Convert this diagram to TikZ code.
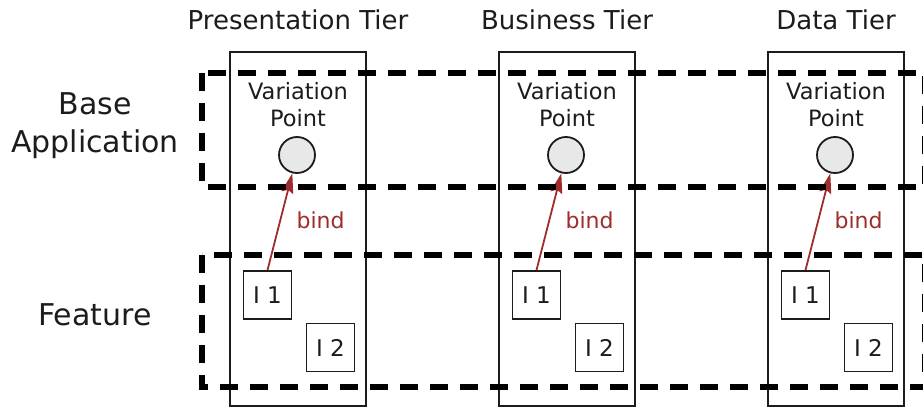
\documentclass[tikz,border=0pt]{standalone}
\usepackage{fontspec}
\setmainfont{DejaVu Sans}
\usetikzlibrary{arrows.meta}
\definecolor{bindred}{RGB}{158,44,44}
\definecolor{txt}{RGB}{28,28,28}
\begin{document}
\begin{tikzpicture}[x=1pt,y=-1pt,
  tierbox/.style={draw=txt, line width=1.8pt, minimum width=136pt, minimum height=354pt, inner sep=0pt},
  tierlabel/.style={anchor=base, text=txt, font=\fontsize{26}{31}\selectfont},
  rowlabel/.style={anchor=base, text=txt, align=center, font=\fontsize{30}{37}\selectfont},
  vptext/.style={anchor=base, text=txt, align=center, font=\fontsize{22.5}{27}\selectfont},
  vpoint/.style={circle, draw=txt, fill=black!9, line width=1.8pt, minimum size=36pt, inner sep=0pt},
  impl/.style={draw=txt, line width=1.8pt, minimum width=48pt, minimum height=48pt, inner sep=0pt, text=txt, font=\fontsize{23}{27}\selectfont},
  bindarrow/.style={draw=bindred, line width=1.8pt, -{Stealth[length=20pt,width=12pt,inset=3pt]}},
  bindlabel/.style={anchor=base west, text=bindred, font=\fontsize{22}{26}\selectfont},
  zone/.style={draw=black, line width=6pt, dash pattern=on 18pt off 12pt}
]
\useasboundingbox (0,0) rectangle (923,409);
\clip (0,0) rectangle (923,409);

% tiers
\foreach \n/\cx/\lab in {p/298/Presentation Tier, b/567/Business Tier, d/836/Data Tier}{
  \node[tierbox] (tier\n) at (\cx,229) {};
  \node[tierlabel] (lab\n) at (\cx,30) {\lab};
  \node[vptext] (vpt\n) at (\cx,127) {Variation\\Point};
  \node[vpoint] (vp\n) at (\cx-1,155) {};
  \node[impl] (ia\n) at (\cx-30.5,295) {I 1};
  \node[impl] (ib\n) at (\cx+32.5,347.5) {I 2};
  \draw[bindarrow] (ia\n.north) -- (vp\n);
  \node[bindlabel] (bind\n) at (\cx-5,228) {bind};
}

% row labels
\node[rowlabel] (base) at (95,152) {Base\\Application};
\node[rowlabel] (feat) at (95,325) {Feature};

% dashed zones
\draw[zone] (202,73) rectangle (925,187);
\draw[zone] (202,255) rectangle (925,387);
\end{tikzpicture}
\end{document}
